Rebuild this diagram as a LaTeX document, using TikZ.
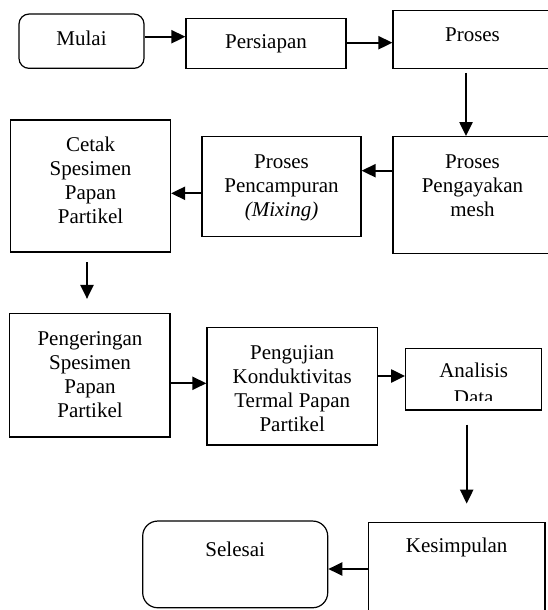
\documentclass[tikz,border=0pt]{standalone}
\usepackage{fontspec}
\setmainfont{Liberation Serif}
\usetikzlibrary{arrows.meta}
\begin{document}
\begin{tikzpicture}[x=1pt,y=-1pt,
  box/.style={draw, line width=1.2pt, inner sep=0pt},
  rbox/.style={box, rounded corners=10pt},
  txt/.style={font=\fontsize{21}{24}\selectfont, align=center, inner sep=0pt, anchor=base},
  arr/.style={line width=2.2pt, -{Triangle[length=14pt,width=13pt]}}]
\useasboundingbox (0,0) rectangle (548,610);
% boxes
\node[rbox, minimum width=125pt, minimum height=54.3pt] (mulai) at (81.5,41.2) {};
\node[box, minimum width=160pt, minimum height=50pt] (pers) at (266,43.3) {};
\node[box, minimum width=159pt, minimum height=57.6pt] (proses) at (472.5,39.5) {};
\node[box, minimum width=160pt, minimum height=132pt] (cetak) at (90.5,186) {};
\node[box, minimum width=159pt, minimum height=100pt] (campur) at (281.5,186.7) {};
\node[box, minimum width=159pt, minimum height=116.6pt] (ayak) at (472.5,195) {};
\node[box, minimum width=160.2pt, minimum height=123.7pt] (kering) at (89.9,375.2) {};
\node[box, minimum width=170.5pt, minimum height=117.7pt] (uji) at (292.2,386.2) {};
\node[box, minimum width=136pt, minimum height=61.7pt] (analisis) at (473.7,379.2) {};
\node[box, minimum width=176.7pt, minimum height=97.7pt] (kes) at (456.7,571.2) {};
\node[rbox, rounded corners=15pt, minimum width=185pt, minimum height=86.7pt] (selesai) at (235.2,564.4) {};
% texts (anchor = baseline of last line)
\node[txt] (tmulai) at (81.5,45.7) {Mulai};
\node[txt] (tpers) at (266,48.3) {Persiapan};
\node[txt] (tproses) at (472.5,41.7) {Proses};
\node[txt] (tcetak) at (90.5,223.7) {Cetak\\Spesimen\\Papan\\Partikel};
\node[txt] (tcampur) at (281.5,216.3) {Proses\\Pencampuran\\\textit{(Mixing)}};
\node[txt] (tayak) at (472.5,216.3) {Proses\\Pengayakan\\mesh};
\node[txt] (tkering) at (90,417) {Pengeringan\\Spesimen\\Papan\\Partikel};
\node[txt] (tuji) at (292.2,431) {Pengujian\\Konduktivitas\\Termal Papan\\Partikel};
\begin{scope}
\clip (400,340) rectangle (548,400);
\node[txt, font=\fontsize{21}{27.5}\selectfont] (tanalisis) at (473.7,404.8) {Analisis\\Data};
\end{scope}
\node[txt] (tkes) at (456.7,552.7) {Kesimpulan};
\node[txt] (tselesai) at (235.2,556.7) {Selesai};
% connectors
\coordinate (a1) at ([yshift=4.5pt]mulai.east);
\draw[arr] (a1) -- (a1 -| pers.west);
\coordinate (a2) at ([yshift=0.6pt]pers.east);
\draw[arr] (a2) -- (a2 -| proses.west);
\coordinate (a3) at ([xshift=-6.5pt,yshift=-4pt]proses.south);
\draw[arr] (a3) -- (a3 |- ayak.north);
\coordinate (a4) at ([yshift=24.3pt]ayak.west);
\draw[arr] (a4) -- (a4 -| campur.east);
\coordinate (a5) at ([yshift=-6.6pt]campur.west);
\draw[arr] (a5) -- (a5 -| cetak.east);
\coordinate (a6) at ([xshift=-3.5pt,yshift=-9.7pt]cetak.south);
\coordinate (a6e) at ([yshift=-36.6pt]a6);
\draw[arr] (a6) -- (a6e);
\coordinate (a7) at ([yshift=-8.1pt]kering.east);
\draw[arr] (a7) -- (a7 -| uji.west);
\coordinate (a8) at ([yshift=10.2pt]uji.east);
\draw[arr] (a8) -- (a8 -| analisis.west);
\coordinate (a9) at ([xshift=-7pt,yshift=-14pt]analisis.south);
\coordinate (a9e) at ([yshift=-79pt]a9);
\draw[arr] (a9) -- (a9e);
\coordinate (a10) at ([yshift=2.2pt]kes.west);
\draw[arr] (a10) -- (a10 -| selesai.east);
\end{tikzpicture}
\end{document}
